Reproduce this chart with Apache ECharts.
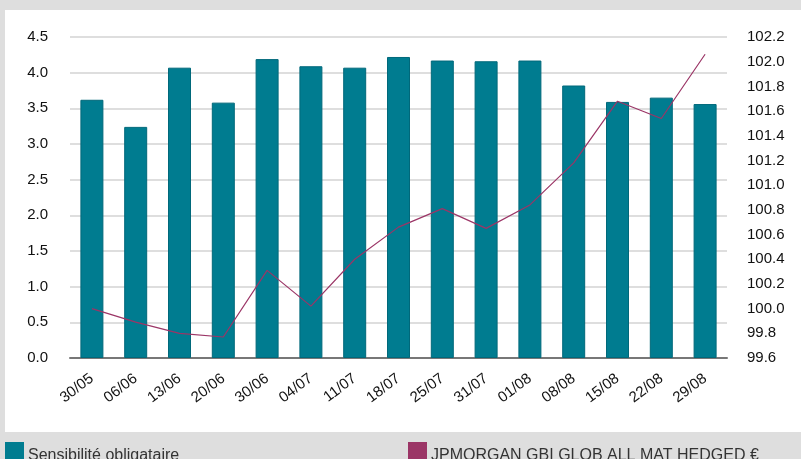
<!DOCTYPE html>
<html><head><meta charset="utf-8">
<script src="https://cdn.jsdelivr.net/npm/echarts@6/dist/echarts.min.js"></script>
<style>html,body{margin:0;padding:0;background:#dedede}#c{width:801px;height:459px}</style>
</head><body><div id="c"></div>
<script>
const categories = ['30/05','06/06','13/06','20/06','30/06','04/07','11/07','18/07','25/07','31/07','01/08','08/08','15/08','22/08','29/08'];
const sensibilite = [3.62,3.24,4.07,3.58,4.19,4.09,4.07,4.22,4.17,4.16,4.17,3.82,3.59,3.65,3.56];
const jpmIndex = [100.00,99.89,99.80,99.77,100.31,100.02,100.40,100.66,100.81,100.65,100.84,101.18,101.68,101.54,102.06];
const leftTicks = {min:0, max:4.5, interval:0.5};
const rightTicks = {min:99.6, max:102.2, interval:0.2};
const seriesNames = ['Sensibilité obligataire','JPMORGAN GBI GLOB ALL MAT HEDGED €'];

const chart = echarts.init(document.getElementById('c'), null, {renderer:'canvas'});
const font = 'Liberation Sans, Arial, sans-serif';
const legendBase = {top:442, icon:'rect', itemWidth:19, itemHeight:28, itemGap:0, padding:0,
  itemStyle:{borderWidth:0},
  textStyle:{fontFamily:font, fontSize:16, color:'#333', padding:[0,0,0,-1]}};
chart.setOption({
  backgroundColor:'#dedede',
  animation:false,
  graphic:[{type:'rect', z:-10, shape:{x:5,y:10,width:796,height:422}, style:{fill:'#ffffff'}}],
  grid:{left:70, right:74, top:37, bottom:101},
  legend:[
    Object.assign({data:[seriesNames[0]], left:5}, legendBase),
    Object.assign({data:[seriesNames[1]], left:408}, legendBase)
  ],
  xAxis:[
    {type:'category', data:categories, boundaryGap:true,
     axisLine:{lineStyle:{color:'#777', width:2}},
     axisTick:{length:10, lineStyle:{color:'#ccc', width:1.5}},
     axisLabel:{rotate:37, margin:19, fontFamily:font, fontSize:15, color:'#111', interval:0},
     splitLine:{show:false}},
    {type:'category', data:categories, boundaryGap:true, position:'bottom',
     axisLine:{show:false},
     axisTick:{inside:true, length:11, lineStyle:{color:'#ccc', width:1.5}},
     axisLabel:{show:false}, splitLine:{show:false}}
  ],
  yAxis:[
    {type:'value', min:leftTicks.min, max:leftTicks.max, interval:leftTicks.interval,
     axisLine:{show:false}, axisTick:{show:false},
     axisLabel:{margin:22, fontFamily:font, fontSize:15, color:'#111', formatter:v=>v.toFixed(1)},
     splitLine:{lineStyle:{color:'#d3d3d3', width:1.5}}},
    {type:'value', min:rightTicks.min, max:rightTicks.max, interval:rightTicks.interval,
     axisLine:{show:false}, axisTick:{show:false},
     axisLabel:{margin:20, fontFamily:font, fontSize:15, color:'#111', formatter:v=>v.toFixed(1)},
     splitLine:{show:false}}
  ],
  series:[
    {name:seriesNames[0], type:'bar', data:sensibilite, yAxisIndex:0, xAxisIndex:0, barWidth:23,
     itemStyle:{color:'#007c90', borderColor:'#00687a', borderWidth:1}},
    {name:seriesNames[1], type:'line', data:jpmIndex, yAxisIndex:1, xAxisIndex:0, symbol:'none',
     itemStyle:{color:'#9b3566'}, lineStyle:{color:'#9b3566', width:1.2}}
  ]
});
</script></body></html>
